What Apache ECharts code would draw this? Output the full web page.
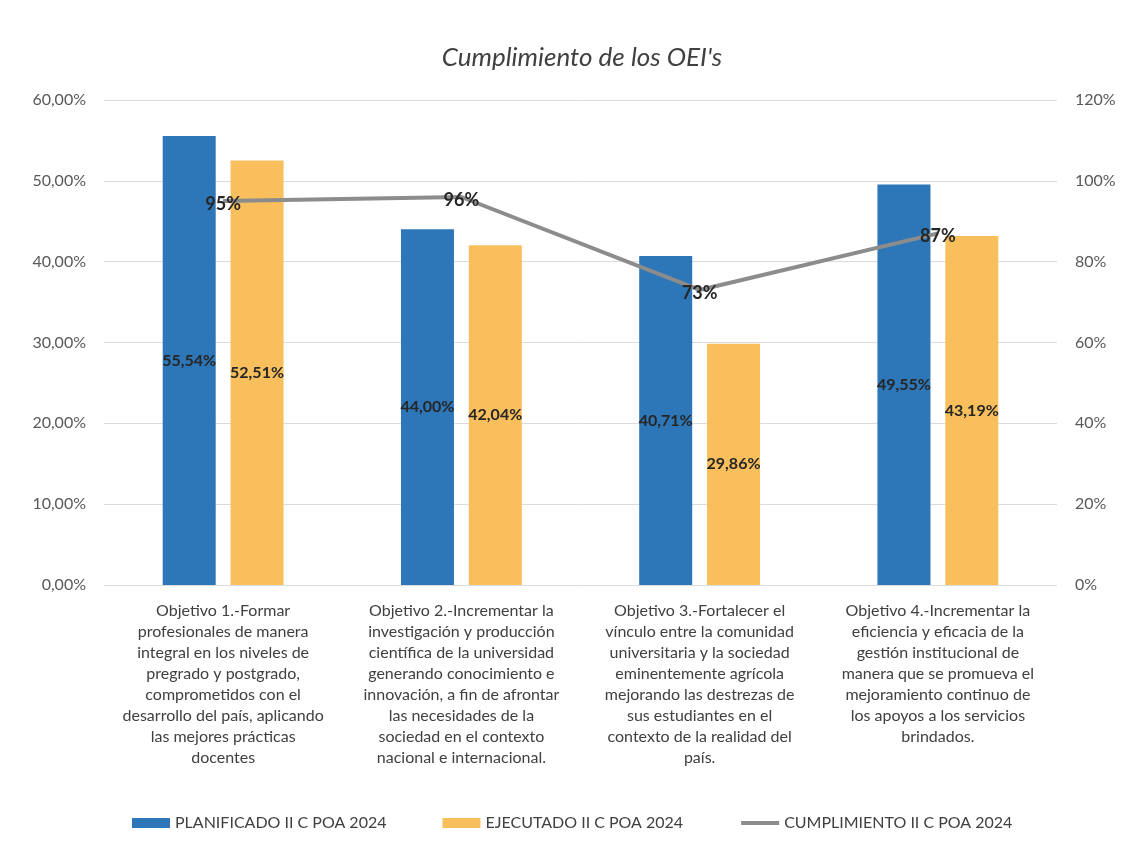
<!DOCTYPE html>
<html>
<head>
<meta charset="utf-8">
<script src="https://cdn.jsdelivr.net/npm/echarts@6/dist/echarts.min.js"></script>
<style>
html,body{margin:0;padding:0;background:#fff;}
#chart{width:1121px;height:850px;}
</style>
</head>
<body>
<div id="chart"></div>
<script>
const categories = [
  "Objetivo 1.-Formar\nprofesionales de manera\nintegral en los niveles de\npregrado y postgrado,\ncomprometidos con el\ndesarrollo del país, aplicando\nlas mejores prácticas\ndocentes",
  "Objetivo 2.-Incrementar la\ninvestigación y producción\ncientífica de la universidad\ngenerando conocimiento e\ninnovación, a fin de afrontar\nlas necesidades de la\nsociedad en el contexto\nnacional e internacional.",
  "Objetivo 3.-Fortalecer el\nvínculo entre la comunidad\nuniversitaria y la sociedad\neminentemente agrícola\nmejorando las destrezas de\nsus estudiantes en el\ncontexto de la realidad del\npaís.",
  "Objetivo 4.-Incrementar la\neficiencia y eficacia de la\ngestión institucional de\nmanera que se promueva el\nmejoramiento continuo de\nlos apoyos a los servicios\nbrindados."
];
const planificado = [55.54, 44.00, 40.71, 49.55];
const ejecutado = [52.51, 42.04, 29.86, 43.19];
const cumplimiento = [95, 96, 73, 87];
const seriesNames = ["PLANIFICADO II C POA 2024", "EJECUTADO II C POA 2024", "CUMPLIMIENTO II C POA 2024"];

const FONT = "Lato, 'Open Sans', sans-serif";
const fmt2 = v => v.toFixed(2).replace('.', ',') + '%';

const chart = echarts.init(document.getElementById('chart'));
chart.setOption({
  backgroundColor: '#ffffff',
  animation: false,
  textStyle: { fontFamily: FONT },
  title: {
    text: "Cumplimiento de los OEI's",
    left: 577, top: 40, textAlign: 'center',
    textStyle: { fontFamily: FONT, fontStyle: 'italic', fontWeight: 'normal', fontSize: 26, color: '#404040' }
  },
  grid: { left: 104, right: 64, top: 100, bottom: 265, containLabel: false },
  legend: {
    bottom: 14, left: 127,
    itemWidth: 38, itemHeight: 10, itemGap: 56,
    textStyle: { fontFamily: FONT, fontSize: 16, color: '#404040' },
    data: [
      { name: seriesNames[0], icon: 'rect' },
      { name: seriesNames[1], icon: 'rect' },
      { name: seriesNames[2], itemStyle: { opacity: 0 }, lineStyle: { width: 4, color: '#8c8c8c' } }
    ]
  },
  xAxis: {
    type: 'category',
    data: categories,
    axisLine: { show: false },
    axisTick: { show: false },
    axisLabel: {
      interval: 0, margin: 15, lineHeight: 21,
      fontFamily: FONT, fontSize: 16, color: '#404040', align: 'center'
    }
  },
  yAxis: [
    {
      type: 'value', min: 0, max: 60, interval: 10,
      axisLine: { show: false }, axisTick: { show: false },
      splitLine: { lineStyle: { color: '#dcdcdc', width: 1 } },
      axisLabel: { formatter: fmt2, fontFamily: FONT, fontSize: 16, color: '#595959', margin: 18 }
    },
    {
      type: 'value', min: 0, max: 120, interval: 20,
      axisLine: { show: false }, axisTick: { show: false },
      splitLine: { show: false },
      axisLabel: { formatter: v => v + '%', fontFamily: FONT, fontSize: 16, color: '#595959', margin: 18 }
    }
  ],
  series: [
    {
      name: seriesNames[0], type: 'bar', data: planificado,
      barWidth: 53, barGap: '28%',
      itemStyle: { color: '#2d76b7' },
      label: { show: true, position: 'inside', formatter: p => fmt2(p.value),
        fontFamily: FONT, fontWeight: 'bold', fontSize: 16, color: '#262626' }
    },
    {
      name: seriesNames[1], type: 'bar', data: ejecutado,
      barWidth: 53,
      itemStyle: { color: '#f8bf5c' },
      label: { show: true, position: 'inside', formatter: p => fmt2(p.value),
        fontFamily: FONT, fontWeight: 'bold', fontSize: 16, color: '#262626' }
    },
    {
      name: seriesNames[2], type: 'line', yAxisIndex: 1, data: cumplimiento,
      symbol: 'circle', symbolSize: 1, showSymbol: true,
      lineStyle: { color: '#8c8c8c', width: 4 },
      itemStyle: { color: '#8c8c8c' },
      label: { show: true, position: 'inside', offset: [0, 3], formatter: p => p.value + '%',
        fontFamily: FONT, fontWeight: 'bold', fontSize: 18, color: '#262626' },
      z: 5
    }
  ]
});
</script>
</body>
</html>
